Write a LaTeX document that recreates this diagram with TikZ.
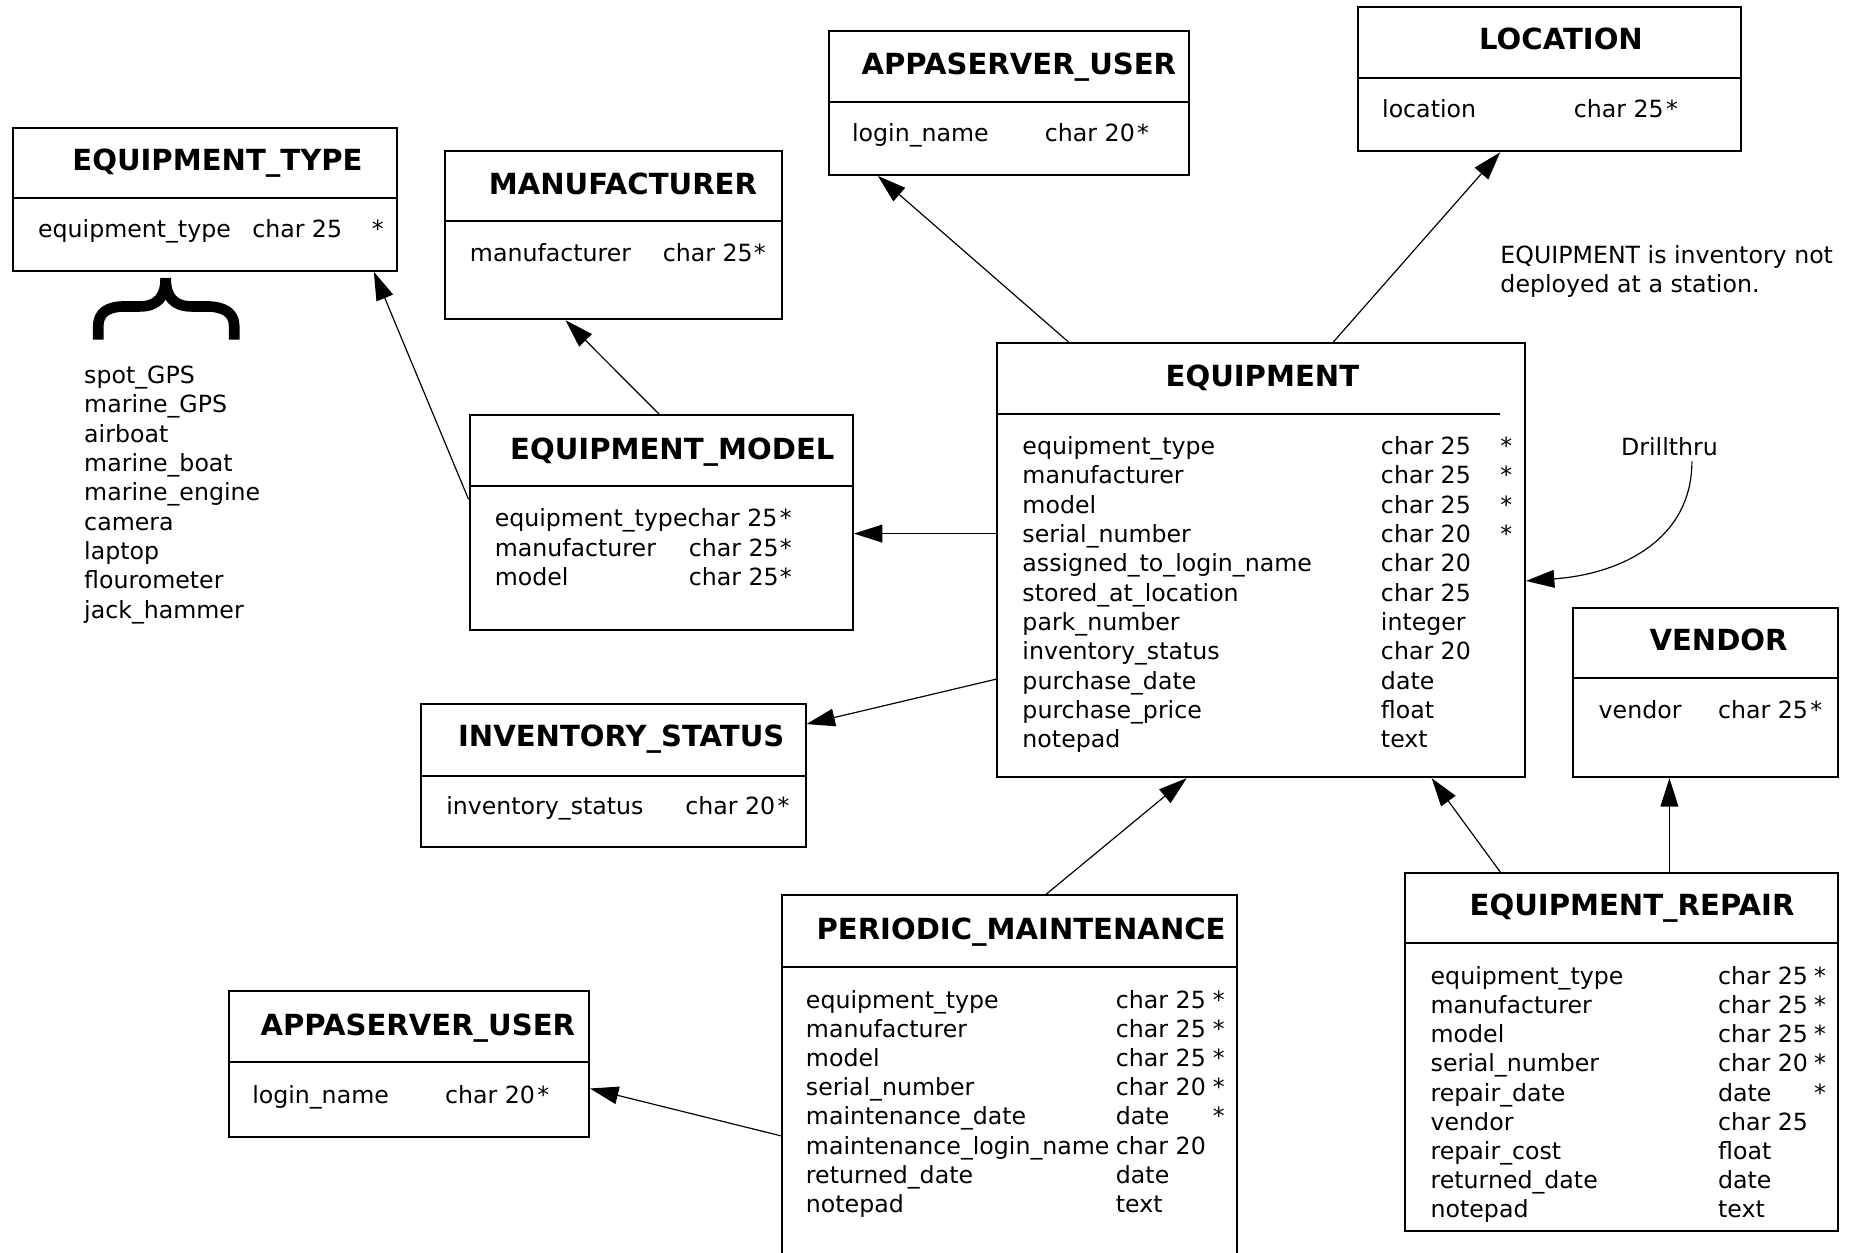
\documentclass[tikz,border=0pt]{standalone}
\usepackage{fontspec}
\setmainfont{DejaVu Sans}
\usetikzlibrary{arrows.meta}
\tikzset{
  tbl/.style={draw, line width=1.7pt, rectangle, inner sep=0pt, anchor=north west},
  sepline/.style={line width=1.7pt},
  ttl/.style={anchor=base west, inner sep=0pt, font=\fontsize{24.6}{29}\selectfont\bfseries},
  fld/.style={anchor=base west, inner sep=0pt, font=\fontsize{20}{24.8}\selectfont},
  conn/.style={line width=1pt, -{Triangle[length=24pt,width=15pt]}},
  bracestroke/.style={line width=9pt, line cap=butt, line join=round}
}
\newcommand\tblrow[8]{%
  \node[fld] (#1-n) at (#3,#2) {#4};
  \node[fld] (#1-t) at (#5,#2) {#6};
  \node[fld] (#1-s) at (#7,#2) {#8};}
\begin{document}
\begin{tikzpicture}[x=1pt,y=-1pt]
\useasboundingbox (0,0) rectangle (1567,1059);
\fill[white] (0,0) rectangle (1567,1059);
\clip (0,0) rectangle (1567,1059);

% ---------- EQUIPMENT_TYPE
\node[tbl, minimum width=325pt, minimum height=121pt] (etype) at (10,107) {};
\draw[sepline] (10,167) -- (335,167);
\node[ttl] (etype-title) at (61,144) {EQUIPMENT\_TYPE};
\tblrow{etype-r1}{201}{32}{equipment\_type}{213}{char 25}{314}{*}

% brace and list
\draw[bracestroke] (83,287) -- (83,276) .. controls (83,264) and (91,259) .. (106,259)
  -- (118,259) .. controls (133,259) and (140,251) .. (140,235);
\draw[bracestroke] (140,235) .. controls (140,251) and (147,259) .. (162,259)
  -- (174,259) .. controls (189,259) and (198,264) .. (198,276) -- (198,287);
\node[fld, anchor=north west, align=left] (etypes) at (71,309) {spot\_GPS\\marine\_GPS\\airboat\\marine\_boat\\marine\_engine\\camera\\laptop\\flourometer\\jack\_hammer};

% ---------- MANUFACTURER
\node[tbl, minimum width=285pt, minimum height=142pt] (manuf) at (375,127) {};
\draw[sepline] (375,187) -- (660,187);
\node[ttl] (manuf-title) at (413,164) {MANUFACTURER};
\tblrow{manuf-r1}{221}{397}{manufacturer}{560}{char 25\kern1pt*}{0}{}

% ---------- APPASERVER_USER (top)
\node[tbl, minimum width=304pt, minimum height=122pt] (appuserA) at (700,25) {};
\draw[sepline] (700,86) -- (1004,86);
\node[ttl] (appuserA-title) at (728,63) {APPASERVER\_USER};
\tblrow{appuserA-r1}{120}{720}{login\_name}{883}{char 20\kern2pt*}{0}{}

% ---------- LOCATION
\node[tbl, minimum width=324pt, minimum height=122pt] (location) at (1147,5) {};
\draw[sepline] (1147,66) -- (1471,66);
\node[ttl] (location-title) at (1250,42) {LOCATION};
\tblrow{location-r1}{99}{1168}{location}{1330}{char 25\kern2pt*}{0}{}

% note
\node[fld, anchor=north west, align=left] (note) at (1268,207) {EQUIPMENT is inventory not\\deployed at a station.};

% ---------- EQUIPMENT
\node[tbl, minimum width=446pt, minimum height=367pt] (equip) at (842,289) {};
\draw[sepline] (842,350) -- (1268,350);
\node[ttl] (equip-title) at (985,327) {EQUIPMENT};
\tblrow{equip-r1}{384}{864}{equipment\_type}{1167}{char 25}{1268}{*}
\tblrow{equip-r2}{408.8}{864}{manufacturer}{1167}{char 25}{1268}{*}
\tblrow{equip-r3}{433.6}{864}{model}{1167}{char 25}{1268}{*}
\tblrow{equip-r4}{458.4}{864}{serial\_number}{1167}{char 20}{1268}{*}
\tblrow{equip-r5}{483.2}{864}{assigned\_to\_login\_name}{1167}{char 20}{1268}{}
\tblrow{equip-r6}{508}{864}{stored\_at\_location}{1167}{char 25}{1268}{}
\tblrow{equip-r7}{532.8}{864}{park\_number}{1167}{integer}{1268}{}
\tblrow{equip-r8}{557.6}{864}{inventory\_status}{1167}{char 20}{1268}{}
\tblrow{equip-r9}{582.4}{864}{purchase\_date}{1167}{date}{1268}{}
\tblrow{equip-r10}{607.2}{864}{purchase\_price}{1167}{float}{1268}{}
\tblrow{equip-r11}{632}{864}{notepad}{1167}{text}{1268}{}

% Drillthru
\node[fld] (drill) at (1370,385) {Drillthru};
\coordinate (drillstart) at (1430,390);

% ---------- EQUIPMENT_MODEL
\node[tbl, minimum width=324pt, minimum height=182pt] (emodel) at (396,350) {};
\draw[sepline] (396,411) -- (720,411);
\node[ttl] (emodel-title) at (431,388) {EQUIPMENT\_MODEL};
\tblrow{emodel-r1}{445}{418}{equipment\_type}{581}{char 25}{659}{*}
\tblrow{emodel-r2}{470}{418}{manufacturer}{582}{char 25}{659}{*}
\tblrow{emodel-r3}{495}{418}{model}{582}{char 25}{659}{*}

% ---------- INVENTORY_STATUS
\node[tbl, minimum width=325pt, minimum height=121pt] (invstatus) at (355,594) {};
\draw[sepline] (355,656) -- (680,656);
\node[ttl] (invstatus-title) at (387,631) {INVENTORY\_STATUS};
\tblrow{invstatus-r1}{688}{377}{inventory\_status}{579}{char 20\kern2pt*}{0}{}

% ---------- VENDOR
\node[tbl, minimum width=224pt, minimum height=143pt] (vendor) at (1329,513) {};
\draw[sepline] (1329,573) -- (1553,573);
\node[ttl] (vendor-title) at (1394,550) {VENDOR};
\tblrow{vendor-r1}{607}{1351}{vendor}{1452}{char 25\kern2pt*}{0}{}

% ---------- EQUIPMENT_REPAIR
\node[tbl, minimum width=366pt, minimum height=303pt] (erepair) at (1187,737) {};
\draw[sepline] (1187,797) -- (1553,797);
\node[ttl] (erepair-title) at (1242,774) {EQUIPMENT\_REPAIR};
\tblrow{erepair-r1}{832}{1209}{equipment\_type}{1452}{char 25}{1533}{*}
\tblrow{erepair-r2}{856.65}{1209}{manufacturer}{1452}{char 25}{1533}{*}
\tblrow{erepair-r3}{881.3}{1209}{model}{1452}{char 25}{1533}{*}
\tblrow{erepair-r4}{905.95}{1209}{serial\_number}{1452}{char 20}{1533}{*}
\tblrow{erepair-r5}{930.6}{1209}{repair\_date}{1452}{date}{1533}{*}
\tblrow{erepair-r6}{955.25}{1209}{vendor}{1452}{char 25}{1533}{}
\tblrow{erepair-r7}{979.9}{1209}{repair\_cost}{1452}{float}{1533}{}
\tblrow{erepair-r8}{1004.55}{1209}{returned\_date}{1452}{date}{1533}{}
\tblrow{erepair-r9}{1029.2}{1209}{notepad}{1452}{text}{1533}{}

% ---------- PERIODIC_MAINTENANCE (runs off the bottom)
\node[tbl, minimum width=385pt, minimum height=330pt] (pmaint) at (660,756) {};
\draw[sepline] (660,817) -- (1045,817);
\node[ttl] (pmaint-title) at (690,794) {PERIODIC\_MAINTENANCE};
\tblrow{pmaint-r1}{852}{681}{equipment\_type}{943}{char 25}{1025}{*}
\tblrow{pmaint-r2}{876.7}{681}{manufacturer}{943}{char 25}{1025}{*}
\tblrow{pmaint-r3}{901.4}{681}{model}{943}{char 25}{1025}{*}
\tblrow{pmaint-r4}{926.1}{681}{serial\_number}{943}{char 20}{1025}{*}
\tblrow{pmaint-r5}{950.8}{681}{maintenance\_date}{943}{date}{1025}{*}
\tblrow{pmaint-r6}{975.5}{681}{maintenance\_login\_name}{943}{char 20}{1025}{}
\tblrow{pmaint-r7}{1000.2}{681}{returned\_date}{943}{date}{1025}{}
\tblrow{pmaint-r8}{1024.9}{681}{notepad}{943}{text}{1025}{}

% ---------- APPASERVER_USER (bottom)
\node[tbl, minimum width=304pt, minimum height=123pt] (appuserB) at (193,837) {};
\draw[sepline] (193,898) -- (497,898);
\node[ttl] (appuserB-title) at (220,875) {APPASERVER\_USER};
\tblrow{appuserB-r1}{933}{213}{login\_name}{376}{char 20\kern2pt*}{0}{}

% ---------- connectors
\draw[conn] ([yshift=-72pt]emodel.north west) -- ([xshift=306pt]etype.south west);
\draw[conn] ([xshift=161pt]emodel.north west) -- ([xshift=103pt]manuf.south west);
\draw[conn] ([xshift=61pt]equip.north west) -- ([xshift=42pt]appuserA.south west);
\draw[conn] ([xshift=285pt]equip.north west) -- ([xshift=121pt]location.south west);
\draw[conn] ([yshift=-162pt]equip.north west) -- ([yshift=-101pt]emodel.north east);
\draw[conn] ([yshift=-285pt]equip.north west) -- ([yshift=-18pt]invstatus.north east);
\draw[conn] ([xshift=224pt]pmaint.north west) -- ([xshift=161pt]equip.south west);
\draw[conn] ([xshift=81pt]erepair.north west) -- ([xshift=368pt]equip.south west);
\draw[conn] ([xshift=224pt]erepair.north west) -- ([xshift=82pt]vendor.south west);
\draw[conn] ([yshift=-204pt]pmaint.north west) -- ([yshift=-83pt]appuserB.north east);
\draw[conn] (drillstart) .. controls (1430,455) and (1372,485) .. ([yshift=-202pt]equip.north east);
\end{tikzpicture}
\end{document}
